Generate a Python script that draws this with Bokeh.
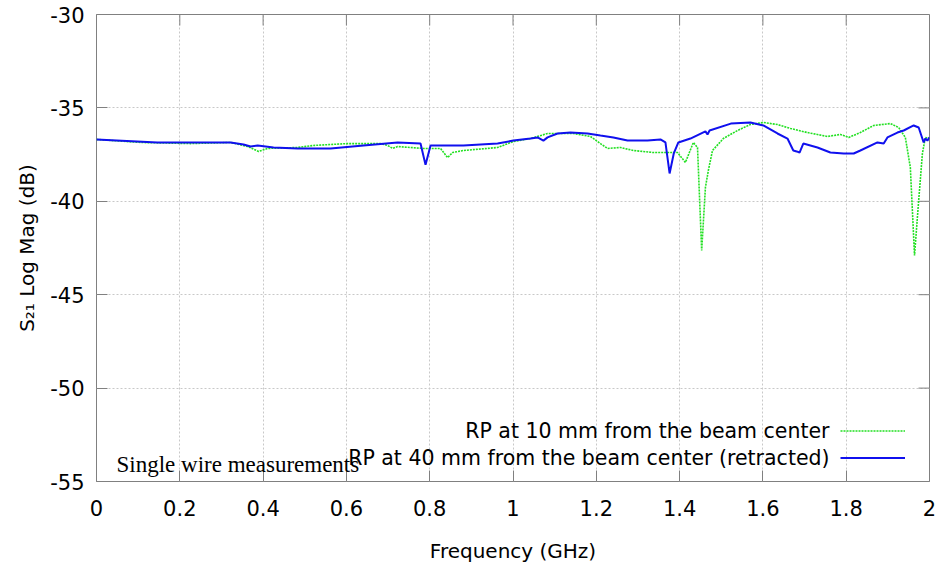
import math
from bokeh.plotting import figure
from bokeh.models import (Range1d, FixedTicker, Legend, LegendItem,
                          Label, CustomJSTickFormatter)
from bokeh.embed import file_html
from bokeh.resources import INLINE

# ---- data ----
freq_10mm = [0.000, 0.106, 0.226, 0.322, 0.363, 0.389, 0.411, 0.483, 0.521, 0.603,
             0.682, 0.699, 0.711, 0.723, 0.785, 0.826, 0.843, 0.855, 0.881, 0.963,
             1.001, 1.042, 1.083, 1.145, 1.186, 1.210, 1.227, 1.258, 1.289, 1.337,
             1.378, 1.395, 1.414, 1.433, 1.443, 1.453, 1.462, 1.469, 1.479, 1.505,
             1.539, 1.570, 1.601, 1.635, 1.666, 1.707, 1.755, 1.786, 1.806, 1.834,
             1.866, 1.906, 1.926, 1.942, 1.954, 1.964, 1.974, 1.983, 1.990, 2.000]
s21_10mm = [-36.69, -36.85, -36.91, -36.85, -37.07, -37.33, -37.17, -37.12, -37.01, -36.91,
            -36.91, -37.01, -37.17, -37.07, -37.17, -37.17, -37.66, -37.39, -37.28, -37.12,
            -36.80, -36.64, -36.37, -36.37, -36.53, -36.91, -37.17, -37.12, -37.28, -37.39,
            -37.39, -37.39, -37.92, -36.85, -37.12, -42.63, -39.26, -38.35, -37.28, -36.64,
            -36.21, -35.89, -35.78, -35.89, -36.10, -36.32, -36.53, -36.42, -36.58, -36.32,
            -35.94, -35.84, -36.05, -36.58, -38.19, -42.90, -39.96, -37.44, -36.58, -36.64]

freq_40mm = [0.000, 0.146, 0.322, 0.353, 0.370, 0.387, 0.425, 0.483, 0.562, 0.641,
             0.723, 0.778, 0.790, 0.802, 0.881, 0.963, 1.001, 1.042, 1.059, 1.073,
             1.083, 1.107, 1.138, 1.179, 1.210, 1.241, 1.275, 1.323, 1.354, 1.366,
             1.376, 1.386, 1.397, 1.426, 1.462, 1.467, 1.472, 1.523, 1.570, 1.601,
             1.635, 1.659, 1.673, 1.681, 1.688, 1.697, 1.731, 1.762, 1.794, 1.818,
             1.834, 1.875, 1.890, 1.899, 1.923, 1.938, 1.962, 1.974, 1.986, 1.990,
             1.995, 2.000]
s21_40mm = [-36.69, -36.85, -36.85, -36.96, -37.07, -37.01, -37.12, -37.17, -37.17, -37.01,
            -36.85, -36.91, -38.05, -37.01, -37.01, -36.91, -36.75, -36.64, -36.58, -36.75,
            -36.58, -36.37, -36.32, -36.37, -36.48, -36.58, -36.75, -36.75, -36.69, -36.85,
            -38.51, -37.44, -36.85, -36.64, -36.26, -36.42, -36.21, -35.84, -35.78, -35.94,
            -36.37, -36.64, -37.28, -37.33, -37.39, -36.91, -37.12, -37.39, -37.44, -37.44,
            -37.28, -36.85, -36.91, -36.58, -36.32, -36.21, -35.94, -36.05, -36.85, -36.64,
            -36.75, -36.58]

x_ticks = [0, 0.2, 0.4, 0.6, 0.8, 1.0, 1.2, 1.4, 1.6, 1.8, 2.0]
y_ticks = [-55, -50, -45, -40, -35, -30]

label_10mm = "RP at 10 mm from the beam center"
label_40mm = "RP at 40 mm from the beam center (retracted)"
note_text = "Single wire measurements"

FONT = "DejaVu Sans"
BORDER = "#808080"
X_MIN, X_MAX, Y_MIN, Y_MAX = 0, 2, -55, -30

p = figure(width=936, height=566, output_backend="svg", toolbar_location=None,
           x_range=Range1d(X_MIN, X_MAX), y_range=Range1d(Y_MIN, Y_MAX),
           min_border_left=96, min_border_right=7, min_border_top=14, min_border_bottom=85)
p.outline_line_color = BORDER
p.outline_line_width = 1
p.background_fill_color = "white"
p.border_fill_color = "white"

fmt = CustomJSTickFormatter(code="return String(Number(tick.toFixed(2)));")

def style_axis(ax, ticks):
    ax.ticker = FixedTicker(ticks=ticks)
    ax.formatter = fmt
    ax.axis_line_color = None
    ax.major_tick_in = 11
    ax.major_tick_out = 0
    ax.major_tick_line_color = BORDER
    ax.minor_tick_line_color = None
    ax.major_label_text_font = FONT
    ax.major_label_text_font_size = "21px"
    ax.major_label_text_color = "black"
    ax.axis_label_text_font = FONT
    ax.axis_label_text_font_size = "20px"
    ax.axis_label_text_font_style = "normal"
    ax.axis_label_text_color = "black"

xa = p.xaxis[0]
style_axis(xa, x_ticks)
xa.axis_label = "Frequency (GHz)"
xa.major_label_standoff = 18
xa.axis_label_standoff = 20

ya = p.yaxis[0]
style_axis(ya, y_ticks)
ya.axis_label = "S\u2082\u2081 Log Mag (dB)"
ya.major_label_standoff = 12
ya.axis_label_standoff = 8

# mirrored inward ticks on top and right borders (gnuplot style)
p.ray(x=x_ticks, y=[Y_MAX] * len(x_ticks), length=11, length_units="screen",
      angle=-math.pi / 2, line_color=BORDER, line_width=1)
p.ray(x=[X_MAX] * len(y_ticks), y=y_ticks, length=11, length_units="screen",
      angle=math.pi, line_color=BORDER, line_width=1)

p.xgrid.ticker = FixedTicker(ticks=x_ticks)
p.ygrid.ticker = FixedTicker(ticks=y_ticks)
for g in (p.xgrid[0], p.ygrid[0]):
    g.grid_line_color = "#c8c8c8"
    g.grid_line_dash = "2 2"
    g.grid_line_width = 1

r10 = p.line(freq_10mm, s21_10mm, line_color="#22e022", line_width=1.6, line_dash="2 1")
r40 = p.line(freq_40mm, s21_40mm, line_color="#1010ee", line_width=2)

legend = Legend(items=[LegendItem(label=" ", renderers=[r10]),
                       LegendItem(label=" ", renderers=[r40])],
                location=(744, 10), orientation="vertical",
                glyph_width=65, glyph_height=27, spacing=0, padding=0, margin=0,
                label_standoff=0, label_text_font_size="8px",
                border_line_color=None, background_fill_alpha=0)
p.add_layout(legend)

for txt, yv in ((label_10mm, -52.27), (label_40mm, -53.72)):
    p.add_layout(Label(x=1.76, y=yv, text=txt, text_align="right", text_baseline="middle",
                       text_font=FONT, text_font_size="20.5px", text_color="black"))

p.add_layout(Label(x=0.048, y=-54.1, text=note_text, text_align="left",
                   text_baseline="alphabetic", text_font="Liberation Serif",
                   text_font_size="23px", text_color="black"))

open("out.html", "w").write(file_html(p, INLINE))
